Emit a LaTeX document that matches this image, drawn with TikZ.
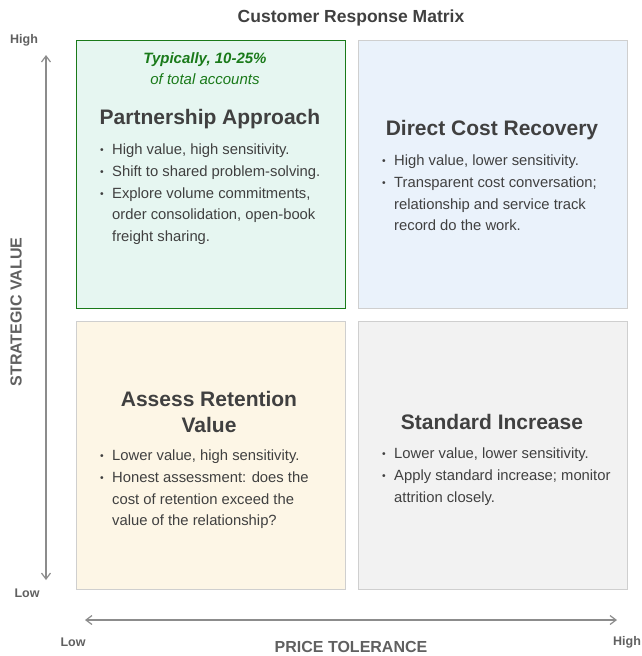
\documentclass[tikz,border=0pt]{standalone}
\usepackage{fontspec}
\setmainfont{Liberation Sans}
\usetikzlibrary{arrows.meta}
\definecolor{ink}{HTML}{404040}
\definecolor{axisgray}{HTML}{8C8C8C}
\definecolor{labelgray}{HTML}{606060}
\definecolor{leafgreen}{HTML}{1A7A1A}
\definecolor{mintfill}{HTML}{E6F6F1}
\definecolor{bluefill}{HTML}{EAF2FB}
\definecolor{creamfill}{HTML}{FDF6E6}
\definecolor{greyfill}{HTML}{F2F2F2}
\definecolor{edgegray}{HTML}{CFCFCF}
\newcommand{\bul}{\makebox[12pt][l]{\raisebox{1pt}{\scalebox{0.7}{\textbullet}}}}
\newcommand{\cont}{\hspace*{12pt}}
\tikzset{
  quad/.style={draw=edgegray, line width=1.3pt, minimum width=269pt, minimum height=268pt, anchor=north west, inner sep=0pt},
  heading/.style={text=ink, font=\fontsize{21}{25}\selectfont\bfseries, align=center},
  body/.style={text=ink, font=\fontsize{14.8}{21.6}\selectfont, align=left, anchor=north west, inner sep=0pt},
  axislbl/.style={text=labelgray, font=\fontsize{16}{19}\selectfont\bfseries},
  endlbl/.style={text=labelgray, font=\fontsize{12.5}{15}\selectfont\bfseries},
  axisarrow/.style={draw=axisgray, line width=1.4pt, {Straight Barb[length=6pt,width=9pt,line width=1.2pt]}-{Straight Barb[length=6pt,width=9pt,line width=1.2pt]}}
}
\begin{document}
\begin{tikzpicture}[x=1pt,y=-1pt]
\useasboundingbox (0,0) rectangle (642,656);

% title
\node[text=ink, font=\fontsize{17.5}{21}\selectfont\bfseries] (title) at (351,18) {Customer Response Matrix};

% quadrants
\node[quad, fill=mintfill, draw=leafgreen] (tl) at (76,40) {};
\node[quad, fill=bluefill] (tr) at (358,40) {};
\node[quad, fill=creamfill] (bl) at (76,321) {};
\node[quad, fill=greyfill] (br) at (358,321) {};

% top-left: partnership
\node[text=leafgreen, font=\fontsize{15}{19}\selectfont\bfseries\itshape] (share) at (205,60) {Typically, 10-25\%};
\node[text=leafgreen, font=\fontsize{15}{19}\selectfont\itshape] (sharesub) at (205,79) {of total accounts};
\node[heading] (tlhead) at (210,119) {Partnership Approach};
\node[body] (tlbody) at (100,144) {\bul High value, high sensitivity.\\
\bul Shift to shared problem-solving.\\
\bul Explore volume commitments,\\
\cont order consolidation, open-book\\
\cont freight sharing.};

% top-right: direct cost recovery
\node[heading] (trhead) at (492,130) {Direct Cost Recovery};
\node[body] (trbody) at (382,155) {\bul High value, lower sensitivity.\\
\bul Transparent cost conversation;\\
\cont relationship and service track\\
\cont record do the work.};

% bottom-left: assess retention value
\node[heading, font=\fontsize{21}{26}\selectfont\bfseries] (blhead) at (209,412) {Assess Retention\\Value};
\node[body] (blbody) at (100,450) {\bul Lower value, high sensitivity.\\
\bul Honest assessment: does the\\
\cont cost of retention exceed the\\
\cont value of the relationship?};

% bottom-right: standard increase
\node[heading] (brhead) at (492,422) {Standard Increase};
\node[body] (brbody) at (382,448) {\bul Lower value, lower sensitivity.\\
\bul Apply standard increase; monitor\\
\cont attrition closely.};

% vertical axis
\coordinate (vtop) at (46,55);
\coordinate (vbot) at (46,580);
\draw[axisarrow] (vtop) -- (vbot);
\node[endlbl] (vhigh) at (24,40) {High};
\node[endlbl] (vlow) at (27,593) {Low};
\node[axislbl, rotate=90] (vlabel) at (16,312) {STRATEGIC VALUE};

% horizontal axis
\coordinate (hleft) at (85,620);
\coordinate (hright) at (617,620);
\draw[axisarrow] (hleft) -- (hright);
\node[endlbl] (hlow) at (73,642) {Low};
\node[endlbl] (hhigh) at (627,642) {High};
\node[axislbl] (hlabel) at (351,647) {PRICE TOLERANCE};
\end{tikzpicture}
\end{document}
